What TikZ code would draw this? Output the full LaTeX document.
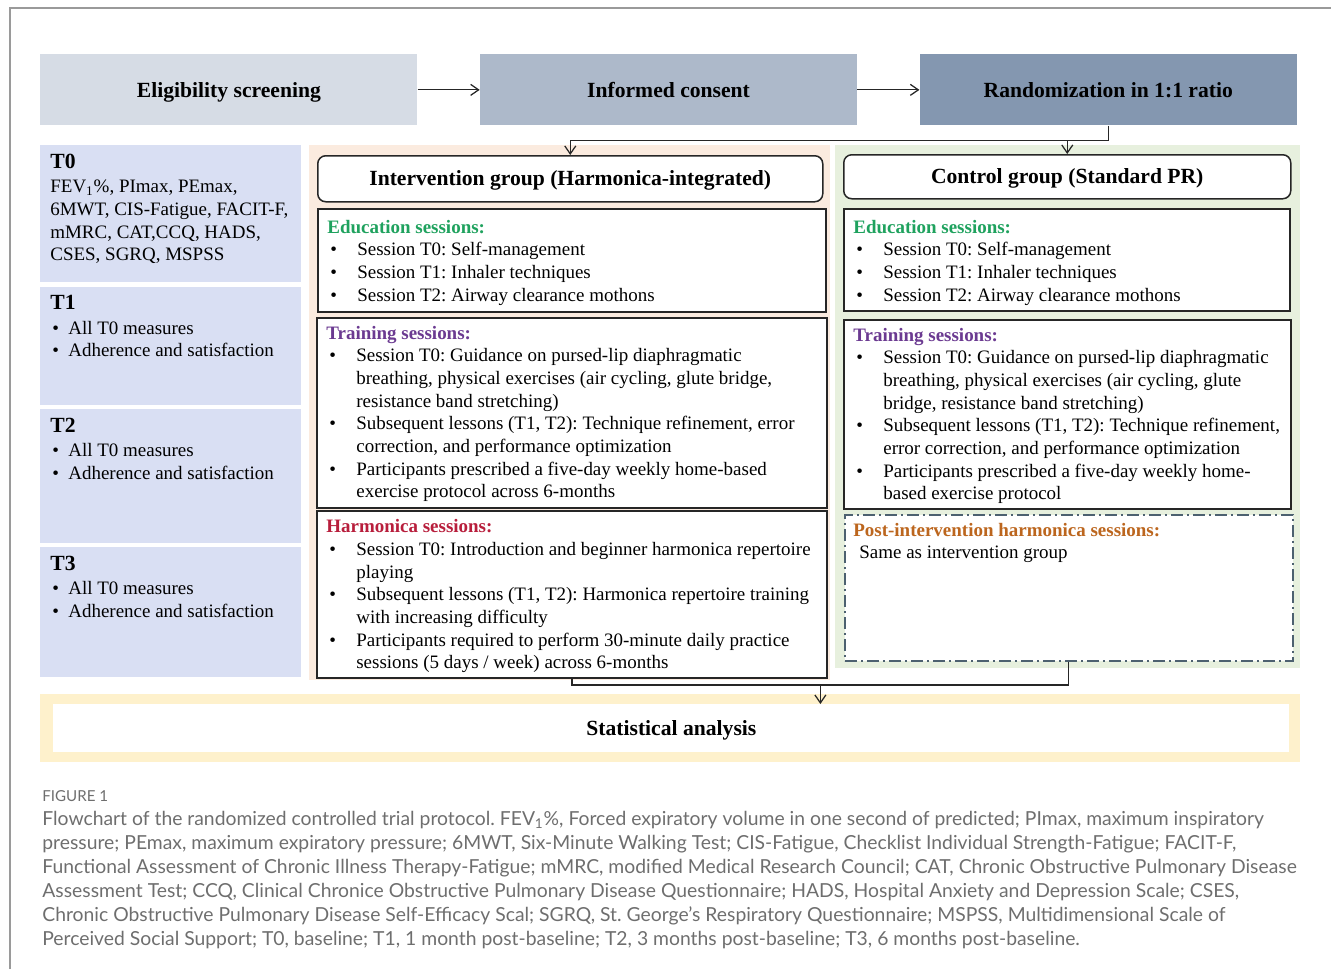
\documentclass[tikz,border=0pt]{standalone}
\usepackage{fontspec}
\setmainfont{Liberation Serif}
\newfontfamily\capfont{Lato}
\usepackage{tikz}
\usetikzlibrary{arrows.meta,positioning,calc}
\definecolor{eligfill}{HTML}{D6DCE5}
\definecolor{consfill}{HTML}{ADB9CA}
\definecolor{randfill}{HTML}{8497B0}
\definecolor{timefill}{HTML}{D9DFF3}
\definecolor{intfill}{HTML}{FBEBDF}
\definecolor{ctlfill}{HTML}{E7F0DE}
\definecolor{statfill}{HTML}{FEF1CC}
\definecolor{edugreen}{HTML}{1FA25E}
\definecolor{trainpurple}{HTML}{6B3A91}
\definecolor{harmred}{HTML}{B81E3C}
\definecolor{postorange}{HTML}{BC661E}
\definecolor{dashslate}{HTML}{4D6170}
\definecolor{capgray}{HTML}{6E6E6E}
\definecolor{framegray}{HTML}{9A9A9A}
\frenchspacing
\newcommand{\bodyfont}{\fontsize{10.8}{12.9}\selectfont}
\newcommand{\headfont}{\fontsize{12.3}{14}\selectfont\bfseries}
\newcommand{\sbul}{\makebox[6mm][l]{\hspace{0.6mm}\textbullet}}
\newcommand{\sind}{\hspace*{6mm}}
\newcommand{\tbul}{\makebox[3.6mm][l]{\hspace{0.4mm}\textbullet}}
\tikzset{
  arrowline/.style={-{Straight Barb[length=1.6mm,width=2.2mm]}, line width=0.25mm, draw=black!85},
  joinline/.style={line width=0.25mm, draw=black!85},
  headtext/.style={font=\headfont, text height=8.2pt, text depth=0pt},
  stepbox/.style={anchor=north west, minimum width=75.4mm, minimum height=14.2mm,
    inner sep=0pt, headtext},
  timebox/.style={fill=timefill, anchor=north west, minimum width=52.2mm, inner sep=0pt},
  panel/.style={anchor=north west, inner sep=0pt},
  titlebox/.style={draw=black!85, line width=0.3mm, rounded corners=1.6mm, fill=white,
    anchor=north west, inner sep=0pt, headtext},
  sessbox/.style={draw=black!85, line width=0.4mm, fill=white, anchor=north west, inner sep=0pt},
  postbox/.style={draw=dashslate, line width=0.3mm,
    dash pattern=on 2.4mm off 0.8mm on 0.4mm off 0.8mm, fill=white, anchor=north west, inner sep=0pt},
  txt/.style={anchor=north west, align=left, inner sep=0pt, font=\bodyfont},
  captxt/.style={anchor=north west, align=left, inner sep=0pt, text=capgray}
}

\begin{document}
\begin{tikzpicture}[x=0.2mm, y=-0.2mm]
  \useasboundingbox (0,0) rectangle (1331,969);
  \draw[framegray, line width=0.3mm] (10,969) -- (10,8) -- (1331,8);

  % top row
  \node[stepbox, fill=eligfill] (elig) at (40,54) {Eligibility screening};
  \node[stepbox, fill=consfill, right=12.4mm of elig] (consent) {Informed consent};
  \node[stepbox, fill=randfill, right=12.4mm of consent] (rand) {Randomization in 1:1 ratio};
  \draw[arrowline] (elig) -- (consent);
  \draw[arrowline] (consent) -- (rand);

  % time points
  \node[timebox, minimum height=27.4mm] (tzero) at (40,145) {};
  \node[timebox, minimum height=23.6mm] (tone) at (40,287) {};
  \node[timebox, minimum height=26.8mm] (ttwo) at (40,409) {};
  \node[timebox, minimum height=26mm] (tthree) at (40,547) {};
  \node[txt, below right=1.7mm and 2mm of tzero.north west] (tzerotxt) {{\headfont T0}\\[1pt]
    FEV\textsubscript{1}\%, PImax, PEmax,\\
    6MWT, CIS-Fatigue, FACIT-F,\\
    mMRC, CAT,CCQ, HADS,\\
    CSES, SGRQ, MSPSS};
  \node[txt, below right=1.6mm and 2mm of tone.north west] (tonetxt) {{\headfont T1}\\[1pt]
    \tbul All T0 measures\\
    \tbul Adherence and satisfaction};
  \node[txt, below right=1.7mm and 2mm of ttwo.north west] (ttwotxt) {{\headfont T2}\\[1pt]
    \tbul All T0 measures\\
    \tbul Adherence and satisfaction};
  \node[txt, below right=1.7mm and 2mm of tthree.north west] (tthreetxt) {{\headfont T3}\\[1pt]
    \tbul All T0 measures\\
    \tbul Adherence and satisfaction};

  % group panels
  \node[panel, fill=intfill, minimum width=104.2mm, minimum height=107mm] (ipanel) at (309,145) {};
  \node[panel, fill=ctlfill, minimum width=93mm, minimum height=104.6mm] (cpanel) at (835,145) {};
  \node[titlebox, minimum width=101mm, minimum height=9.2mm] (ititle) at (317,155)
    {Intervention group (Harmonica-integrated)};
  \node[titlebox, minimum width=89.4mm, minimum height=8.8mm] (ctitle) at (843,154)
    {Control group (Standard PR)};

  % intervention group
  \node[sessbox, minimum width=101.6mm, minimum height=20.6mm] (iedu) at (317,208) {};
  \node[sessbox, minimum width=102mm, minimum height=38mm] (itrain) at (316,317) {};
  \node[sessbox, minimum width=102mm, minimum height=33.4mm] (iharm) at (316,510) {};
  \node[txt, below right=2.3mm and 2mm of iedu.north west] (iedutxt)
    {\textcolor{edugreen}{\textbf{Education sessions:}}\\
    \sbul Session T0: Self-management\\
    \sbul Session T1: Inhaler techniques\\
    \sbul Session T2: Airway clearance mothons};
  \node[txt, below right=1.75mm and 2mm of itrain.north west] (itraintxt)
    {\textcolor{trainpurple}{\textbf{Training sessions:}}\\
    \sbul Session T0: Guidance on pursed-lip diaphragmatic\\
    \sind breathing, physical exercises (air cycling, glute bridge,\\
    \sind resistance band stretching)\\
    \sbul Subsequent lessons (T1, T2): Technique refinement, error\\
    \sind correction, and performance optimization\\
    \sbul Participants prescribed a five-day weekly home-based\\
    \sind exercise protocol across 6-months};
  \node[txt, below right=1.85mm and 2mm of iharm.north west] (iharmtxt)
    {\textcolor{harmred}{\textbf{Harmonica sessions:}}\\
    \sbul Session T0: Introduction and beginner harmonica repertoire\\
    \sind playing\\
    \sbul Subsequent lessons (T1, T2): Harmonica repertoire training\\
    \sind with increasing difficulty\\
    \sbul Participants required to perform 30-minute daily practice\\
    \sind sessions (5 days / week) across 6-months};

  % control group
  \node[sessbox, minimum width=89.2mm, minimum height=20.4mm] (cedu) at (843,208) {};
  \node[sessbox, minimum width=89.4mm, minimum height=37.8mm] (ctrain) at (843,319) {};
  \node[postbox, minimum width=89.6mm, minimum height=29.2mm] (cpost) at (844,514) {};
  \node[txt, below right=2.3mm and 2mm of cedu.north west] (cedutxt)
    {\textcolor{edugreen}{\textbf{Education sessions:}}\\
    \sbul Session T0: Self-management\\
    \sbul Session T1: Inhaler techniques\\
    \sbul Session T2: Airway clearance mothons};
  \node[txt, below right=1.75mm and 2mm of ctrain.north west] (ctraintxt)
    {\textcolor{trainpurple}{\textbf{Training sessions:}}\\
    \sbul Session T0: Guidance on pursed-lip diaphragmatic\\
    \sind breathing, physical exercises (air cycling, glute\\
    \sind bridge, resistance band stretching)\\
    \sbul Subsequent lessons (T1, T2): Technique refinement,\\
    \sind error correction, and performance optimization\\
    \sbul Participants prescribed a five-day weekly home-\\
    \sind based exercise protocol};
  \node[txt, below right=1.75mm and 1.8mm of cpost.north west] (cposttxt)
    {\textcolor{postorange}{\textbf{Post-intervention harmonica sessions:}}\\
    \hspace*{1.2mm}Same as intervention group};

  % statistical analysis
  \node[panel, fill=statfill, minimum width=252mm, minimum height=13.6mm] (statband) at (40,694) {};
  \node[panel, fill=white, minimum width=247.2mm, minimum height=9.6mm, headtext] (stat) at (53,704)
    {Statistical analysis};

  % connectors
  \coordinate (split) at ([yshift=-3mm]rand.south);
  \draw[joinline] (rand.south) -- (split);
  \draw[arrowline] (split) -| (ititle.north);
  \draw[arrowline] (ctitle.north |- split) -- (ctitle.north);
  \coordinate (merge) at ([yshift=-1.2mm]iharm.south);
  \draw[joinline] (iharm.south) -- (merge) -| (cpost.south);
  \coordinate (midmerge) at ($(merge)!0.5!(cpost.south |- merge)$);
  \draw[arrowline] (midmerge) -- (midmerge |- stat.north);

  % caption
  \node[captxt, font=\capfont\fontsize{8.6}{10}\selectfont] (figlabel) at (42,790) {FIGURE 1};
  \node[captxt, font=\capfont\fontsize{11}{13.66}\selectfont] (caption) at (42,811)
    {Flowchart of the randomized controlled trial protocol. FEV\textsubscript{1}\%, Forced expiratory volume in one second of predicted; PImax, maximum inspiratory\\
    pressure; PEmax, maximum expiratory pressure; 6MWT, Six-Minute Walking Test; CIS-Fatigue, Checklist Individual Strength-Fatigue; FACIT-F,\\
    Functional Assessment of Chronic Illness Therapy-Fatigue; mMRC, modified Medical Research Council; CAT, Chronic Obstructive Pulmonary Disease\\
    Assessment Test; CCQ, Clinical Chronice Obstructive Pulmonary Disease Questionnaire; HADS, Hospital Anxiety and Depression Scale; CSES,\\
    Chronic Obstructive Pulmonary Disease Self-Efficacy Scal; SGRQ, St. George’s Respiratory Questionnaire; MSPSS, Multidimensional Scale of\\
    Perceived Social Support; T0, baseline; T1, 1 month post-baseline; T2, 3 months post-baseline; T3, 6 months post-baseline.};
\end{tikzpicture}
\end{document}
